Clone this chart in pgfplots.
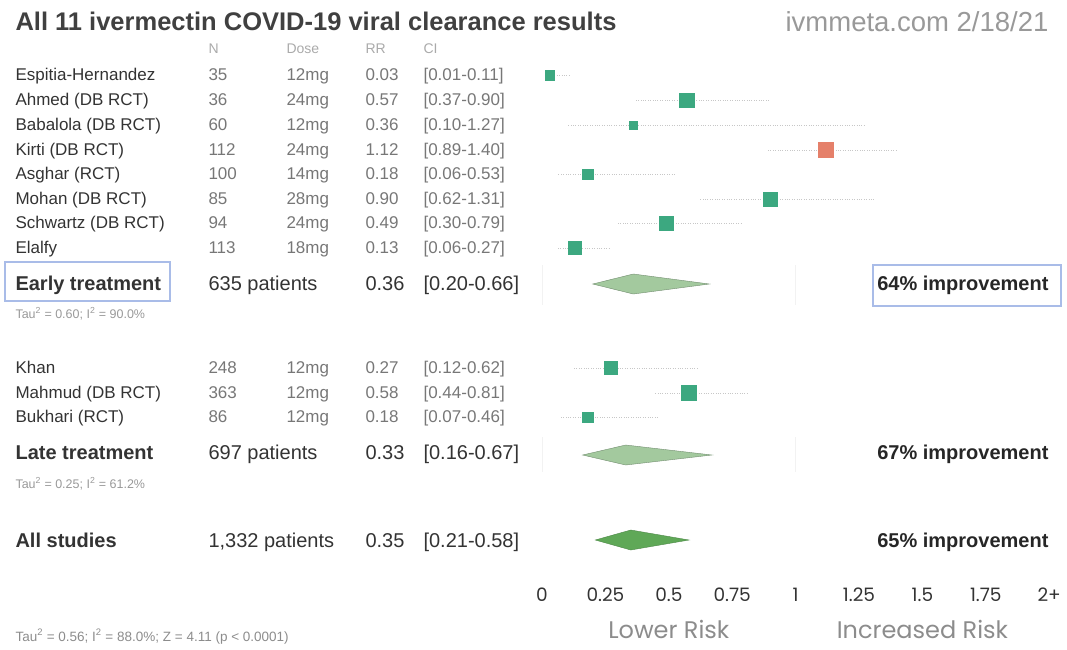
\documentclass[border=0pt]{standalone}
\usepackage{pgfplots}
\pgfplotsset{compat=1.18}
\usepackage{fontspec}
\setmainfont{Liberation Sans}
\newfontfamily\tickfont{Poppins}
\definecolor{sqgreen}{HTML}{3CA880}
\definecolor{sqred}{HTML}{E5806A}
\definecolor{dialight}{HTML}{A3C99E}
\definecolor{diadark}{HTML}{5FA857}
\definecolor{boxblue}{HTML}{A9BCE8}
\definecolor{txtdark}{HTML}{333333}
\definecolor{txtgrey}{HTML}{777777}
\definecolor{txtlight}{HTML}{AAAAAA}
\newcommand\fs[1]{\fontsize{#1}{#1}\selectfont}
\pgfplotsset{
  study/.style 2 args={only marks, mark=square*, mark size=#1,
    mark options={fill=#2, draw=#2},
    error bars/.cd, x dir=both, x explicit, error mark=none,
    error bar style={black!22, dotted, line width=0.6pt}, /pgfplots/.cd},
}
\begin{document}
\begin{tikzpicture}
\useasboundingbox (0,0) rectangle (1067pt,-649pt);
\begin{axis}[at={(0pt,0pt)}, anchor=north west, scale only axis,
  width=1067pt, height=649pt,
  xmin=-2.1372, xmax=2.0702, ymin=-649, ymax=0,
  axis lines=none, clip=false]
% faint reference lines at 0 and 1
\addplot[black!5, line width=0.8pt] coordinates {(0,-265) (0,-305)};
\addplot[black!5, line width=0.8pt] coordinates {(1,-265) (1,-305)};
\addplot[black!5, line width=0.8pt] coordinates {(0,-437) (0,-472)};
\addplot[black!5, line width=0.8pt] coordinates {(1,-437) (1,-472)};
% early studies
\addplot[study={4.7pt}{sqgreen}] coordinates {(0.03,-75) += (0.08,0) -= (0.02,0)};
\addplot[study={7.2pt}{sqgreen}] coordinates {(0.57,-100) += (0.33,0) -= (0.20,0)};
\addplot[study={4.2pt}{sqgreen}] coordinates {(0.36,-125) += (0.91,0) -= (0.26,0)};
\addplot[study={7.5pt}{sqred}] coordinates {(1.12,-150) += (0.28,0) -= (0.23,0)};
\addplot[study={5.1pt}{sqgreen}] coordinates {(0.18,-174) += (0.35,0) -= (0.12,0)};
\addplot[study={7.2pt}{sqgreen}] coordinates {(0.90,-199) += (0.41,0) -= (0.28,0)};
\addplot[study={7.2pt}{sqgreen}] coordinates {(0.49,-223) += (0.30,0) -= (0.19,0)};
\addplot[study={6.5pt}{sqgreen}] coordinates {(0.13,-248) += (0.14,0) -= (0.07,0)};
% late studies
\addplot[study={6.4pt}{sqgreen}] coordinates {(0.27,-368) += (0.35,0) -= (0.15,0)};
\addplot[study={7.5pt}{sqgreen}] coordinates {(0.58,-393) += (0.23,0) -= (0.14,0)};
\addplot[study={5.3pt}{sqgreen}] coordinates {(0.18,-417) += (0.28,0) -= (0.11,0)};
% summary diamonds
\addplot[fill=dialight, draw=dialight!70!black, line width=0.4pt] coordinates {(0.20,-284) (0.36,-274) (0.66,-284) (0.36,-294)} -- cycle;
\addplot[fill=dialight, draw=dialight!70!black, line width=0.4pt] coordinates {(0.16,-455) (0.33,-445) (0.67,-455) (0.33,-465)} -- cycle;
\addplot[fill=diadark, draw=diadark!80!black, line width=0.4pt] coordinates {(0.21,-540) (0.35,-530) (0.58,-540) (0.35,-550)} -- cycle;
% tick labels
\foreach \v/\l in {0/0, 0.25/0.25, 0.5/0.5, 0.75/0.75, 1/1, 1.25/1.25, 1.5/1.5, 1.75/1.75, 2/2+} {
  \edef\temp{\noexpand\node[anchor=base, text=txtdark, font=\noexpand\tickfont\noexpand\fs{18.5}] at (axis cs:\v,-601) {\l};}
  \temp
}
\node[anchor=base, inner sep=0pt, text=black!45, font=\tickfont\fs{24}] at (axis cs:0.5,-638) {Lower Risk};
\node[anchor=base, inner sep=0pt, text=black!45, font=\tickfont\fs{24}] at (axis cs:1.5,-638) {Increased Risk};
\end{axis}
% title
\node[anchor=base west, text=black!75, font=\bfseries\fs{25.5}] at (12pt,-30pt) {All 11 ivermectin COVID-19 viral clearance results};
\node[anchor=base east, text=black!40, font=\fs{27.5}] at (1052pt,-31pt) {ivmmeta.com 2/18/21};
% header
\foreach \x/\t in {205/N, 283/Dose, 362/RR, 420/CI}
  \node[anchor=base west, text=txtlight, font=\fs{14}] at (\x pt,-53pt) {\t};
% study rows
\newcommand\row[6]{%
  \node[anchor=base west, text=txtdark, font=\fs{17}] at (12pt,-#1pt) {#2};
  \node[anchor=base west, text=txtgrey, font=\fs{17}] at (205pt,-#1pt) {#3};
  \node[anchor=base west, text=txtgrey, font=\fs{17}] at (283pt,-#1pt) {#4};
  \node[anchor=base west, text=txtgrey, font=\fs{17}] at (362pt,-#1pt) {#5};
  \node[anchor=base west, text=txtgrey, font=\fs{17}] at (420pt,-#1pt) {#6};}
\row{80}{Espitia-Hernandez}{35}{12mg}{0.03}{[0.01-0.11]}
\row{105}{Ahmed (DB RCT)}{36}{24mg}{0.57}{[0.37-0.90]}
\row{130}{Babalola (DB RCT)}{60}{12mg}{0.36}{[0.10-1.27]}
\row{155}{Kirti (DB RCT)}{112}{24mg}{1.12}{[0.89-1.40]}
\row{179}{Asghar (RCT)}{100}{14mg}{0.18}{[0.06-0.53]}
\row{204}{Mohan (DB RCT)}{85}{28mg}{0.90}{[0.62-1.31]}
\row{228}{Schwartz (DB RCT)}{94}{24mg}{0.49}{[0.30-0.79]}
\row{253}{Elalfy}{113}{18mg}{0.13}{[0.06-0.27]}
\row{373}{Khan}{248}{12mg}{0.27}{[0.12-0.62]}
\row{398}{Mahmud (DB RCT)}{363}{12mg}{0.58}{[0.44-0.81]}
\row{422}{Bukhari (RCT)}{86}{12mg}{0.18}{[0.07-0.46]}
% summary rows
\newcommand\sumrow[6]{%
  \node[anchor=base west, text=txtdark, font=\bfseries\fs{20}] at (12pt,-#1pt) {#2};
  \node[anchor=base west, text=txtdark, font=\fs{20}] at (205pt,-#1pt) {#3};
  \node[anchor=base west, text=txtdark, font=\fs{20}] at (362pt,-#1pt) {#4};
  \node[anchor=base west, text=txtdark, font=\fs{20}] at (420pt,-#1pt) {#5};
  \node[anchor=base east, text=black!85, font=\bfseries\fs{20}] at (1052pt,-#1pt) {#6};}
\sumrow{290}{Early treatment}{635 patients}{0.36}{[0.20-0.66]}{64\% improvement}
\sumrow{459}{Late treatment}{697 patients}{0.33}{[0.16-0.67]}{67\% improvement}
\sumrow{547}{All studies}{1,332 patients}{0.35}{[0.21-0.58]}{65\% improvement}
% boxes
\draw[boxblue, line width=1.5pt] (5pt,-262pt) rectangle (170pt,-301pt);
\draw[boxblue, line width=1.5pt] (873pt,-265pt) rectangle (1061pt,-306pt);
% tau lines
\node[anchor=base west, text=black!40, font=\fs{12.5}] at (12pt,-318pt) {Tau\textsuperscript{2} = 0.60; I\textsuperscript{2} = 90.0\%};
\node[anchor=base west, text=black!40, font=\fs{12.5}] at (12pt,-488pt) {Tau\textsuperscript{2} = 0.25; I\textsuperscript{2} = 61.2\%};
\node[anchor=base west, text=black!45, font=\fs{13.5}] at (12pt,-641pt) {Tau\textsuperscript{2} = 0.56; I\textsuperscript{2} = 88.0\%; Z = 4.11 (p < 0.0001)};
\end{tikzpicture}
\end{document}
